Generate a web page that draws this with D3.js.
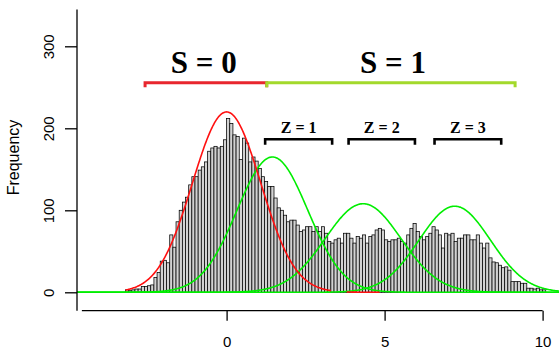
<!DOCTYPE html>
<meta charset="utf-8">
<style>
  body { margin: 0; background: #fff; }
  svg { display: block; }
</style>
<svg width="559" height="350" font-family="'Liberation Sans', Arial, sans-serif"></svg>
<script src="https://cdn.jsdelivr.net/npm/d3@7"></script>
<script>

// histogram counts, bins of width 0.1 starting at -3.2
var binStart = -3.2,
    binWidth = 0.1;
var counts = [
    3,   2,   3,   4,   4,   7,   7,   8,   9,  18,
   24,  38,  39,  36,  70,  55,  86, 100, 110, 116,
  131, 141, 141, 149, 153, 159, 172, 176, 178, 176,
  178, 186, 212, 206, 192, 190, 162, 188, 182, 159,
  165, 160, 151, 141, 135, 129, 129, 115, 103, 100,
   94,  86,  88,  88,  82,  74,  76,  80,  80,  74,
   80,  74,  80,  72,  62,  60,  64,  66,  60,  72,
   72,  66,  60,  68,  66,  70,  60,  68,  70,  76,
   78,  76,  64,  62,  64,  64,  66,  62,  60,  70,
   78,  84,  74,  68,  64,  68,  72,  80,  76,  70,
   54,  72,  70,  72,  62,  66,  66,  70,  70,  64,
   64,  70,  60,  54,  60,  42,  37,  36,  33,  30,
   31,  27,  13,  13,  13,  11,  11,   5,   5,   4,
    5,   3,   3
];

// fitted normal curves: mean, sd, peak height
var redCurve = {mean: 0, sd: 1.08, peak: 220};
var redRanges = [[-3.2, 3.3], [3.8, 4.85]];
var greenCurves = [
  {mean: 1.45, sd: 1.12, peak: 165},
  {mean: 4.32, sd: 1.2, peak: 108},
  {mean: 7.22, sd: 1.13, peak: 105}
];

// annotation brackets (x extents in data units)
var sGroups = [
  {label: "S = 0", from: -2.58, to: 1.27, color: "#e8262e"},
  {label: "S = 1", from: 1.27, to: 9.13, color: "#a3d92b"}
];
var zGroups = [
  {label: "Z = 1", from: 1.22, to: 3.34},
  {label: "Z = 2", from: 3.86, to: 5.96},
  {label: "Z = 3", from: 6.58, to: 8.69}
];

var xTicks = [0, 5, 10],
    yTicks = [0, 100, 200, 300];

var svg = d3.select("svg");

var x = d3.scaleLinear().domain([0, 10]).range([226.6, 542.6]);
var y = d3.scaleLinear().domain([0, 300]).range([292.3, 46.3]);

var bins = counts.map(function(c, i) {
  return {x0: binStart + i * binWidth, x1: binStart + (i + 1) * binWidth, n: c};
});

svg.append("g")
  .selectAll("rect")
  .data(bins)
  .enter().append("rect")
    .attr("x", function(d) { return x(d.x0); })
    .attr("width", function(d) { return x(d.x1) - x(d.x0); })
    .attr("y", function(d) { return y(d.n); })
    .attr("height", function(d) { return y(0) - y(d.n); })
    .attr("fill", "#d2d2d2")
    .attr("stroke", "#000")
    .attr("stroke-width", 0.75);

function normal(c) {
  return function(v) {
    var z = (v - c.mean) / c.sd;
    return c.peak * Math.exp(-0.5 * z * z);
  };
}

var line = d3.line()
    .x(function(d) { return x(d[0]); })
    .y(function(d) { return y(d[1]); });

var fullRange = d3.range(x.invert(77), x.invert(560), 0.02);

greenCurves.forEach(function(c) {
  var f = normal(c);
  svg.append("path")
      .datum(fullRange.map(function(v) { return [v, f(v)]; }))
      .attr("fill", "none")
      .attr("stroke", "#00ee00")
      .attr("stroke-width", 1.6)
      .attr("d", line);
});

var fr = normal(redCurve);
redRanges.forEach(function(r) {
  svg.append("path")
      .datum(d3.range(r[0], r[1] + 0.001, 0.02).map(function(v) { return [v, fr(v)]; }))
      .attr("fill", "none")
      .attr("stroke", "#ff1010")
      .attr("stroke-width", 1.6)
      .attr("d", line);
});

// x axis
var xg = svg.append("g")
    .attr("transform", "translate(0,310.7)")
    .call(d3.axisBottom(x).tickValues(xTicks).tickSize(10).tickPadding(16));
xg.select(".domain").remove();
xg.append("line")
    .attr("x1", x(-4.58)).attr("x2", x(10))
    .attr("stroke", "#000");
xg.selectAll("line").attr("stroke-width", 1.3);
xg.selectAll("text")
    .attr("fill", "#000")
    .attr("font-size", 15)
    .attr("font-family", "'Liberation Sans', Arial, sans-serif");

// y axis
var yg = svg.append("g")
    .attr("transform", "translate(77,0)")
    .call(d3.axisLeft(y).tickValues(yTicks).tickSize(12));
yg.select(".domain").remove();
yg.append("line")
    .attr("y1", y(345)).attr("y2", y(-22.5))
    .attr("stroke", "#000");
yg.selectAll("line").attr("stroke-width", 1.3);
yg.selectAll("text")
    .attr("x", null).attr("dy", null)
    .attr("text-anchor", "middle")
    .attr("transform", "translate(-23,0) rotate(-90)")
    .attr("fill", "#000")
    .attr("font-size", 15)
    .attr("font-family", "'Liberation Sans', Arial, sans-serif");

svg.append("text")
    .attr("transform", "translate(19,157.5) rotate(-90)")
    .attr("text-anchor", "middle")
    .attr("font-size", 16)
    .text("Frequency");

// S brackets
var sY = 82.7;
sGroups.forEach(function(g) {
  var x0 = x(g.from), x1 = x(g.to);
  svg.append("path")
      .attr("d", "M" + x0 + "," + (sY + 4.5) + "V" + sY + "H" + x1 + "V" + (sY + 4.5))
      .attr("fill", "none")
      .attr("stroke", g.color)
      .attr("stroke-width", 3);
});
svg.selectAll(".slabel")
  .data(sGroups)
  .enter().append("text")
    .attr("class", "slabel")
    .attr("x", function(d, i) { return i === 0 ? 203.7 : 393; })
    .attr("y", 73.3)
    .attr("text-anchor", "middle")
    .attr("font-family", "'Liberation Serif', 'Times New Roman', serif")
    .attr("font-weight", "bold")
    .attr("font-size", 31)
    .text(function(d) { return d.label; });

// Z brackets
var zY = 139.3;
zGroups.forEach(function(g) {
  var x0 = x(g.from), x1 = x(g.to);
  svg.append("path")
      .attr("d", "M" + x0 + "," + (zY + 5.5) + "V" + zY + "H" + x1 + "V" + (zY + 5.5))
      .attr("fill", "none")
      .attr("stroke", "#000")
      .attr("stroke-width", 2.6);
  svg.append("text")
      .attr("x", (x0 + x1) / 2)
      .attr("y", 133)
      .attr("text-anchor", "middle")
      .attr("font-family", "'Liberation Serif', 'Times New Roman', serif")
      .attr("font-weight", "bold")
      .attr("font-size", 16)
      .text(g.label);
});

</script>
